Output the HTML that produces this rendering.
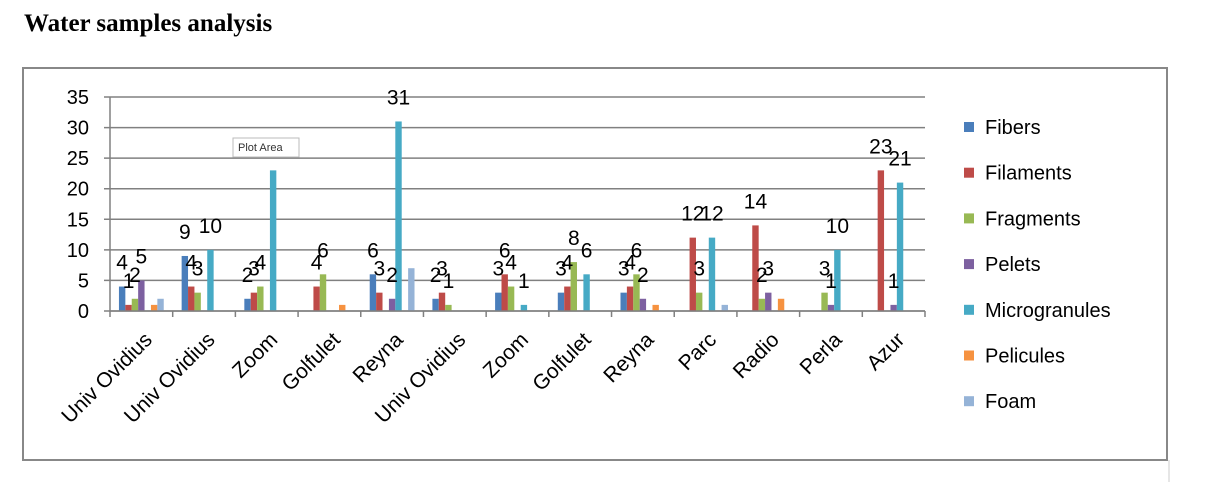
<!DOCTYPE html>
<html><head><meta charset="utf-8"><style>
body{margin:0;background:#fff;width:1205px;height:489px;overflow:hidden}
svg text{font-family:"Liberation Sans",sans-serif}
</style></head><body>
<svg width="1205" height="489">
<text x="24" y="31" font-weight="bold" font-size="25" style="font-family:'Liberation Serif',serif">Water samples analysis</text>
<rect x="23" y="68" width="1144" height="392" fill="none" stroke="#888" stroke-width="2"/>
<line x1="1169" y1="460" x2="1169" y2="482" stroke="#ccc"/>
<g id="grid"></g>
<g id="bars"></g>
<g id="labels"></g>
<g id="xaxis"></g>
<g id="legend"></g>
<g>
<rect x="233" y="138" width="66" height="19" fill="#fff" stroke="#bbb"/>
<text x="238" y="151" font-size="11" fill="#333">Plot Area</text>
</g>
</svg>
<script>
const categories=["Univ Ovidius","Univ Ovidius","Zoom","Golfulet","Reyna","Univ Ovidius","Zoom","Golfulet","Reyna","Parc","Radio","Perla","Azur"];
const seriesNames=["Fibers","Filaments","Fragments","Pelets","Microgranules","Pelicules","Foam"];
const fibers=[4,9,2,0,6,2,3,3,3,0,0,0,0];
const filaments=[1,4,3,4,3,3,6,4,4,12,14,0,23];
const fragments=[2,3,4,6,0,1,4,8,6,3,2,3,0];
const pelets=[5,0,0,0,2,0,0,0,2,0,3,1,1];
const micro=[0,10,23,0,31,0,1,6,0,12,0,10,21];
const pelicules=[1,0,0,1,0,0,0,0,1,0,2,0,0];
const foam=[2,0,0,0,7,0,0,0,0,1,0,0,0];
const yTicks=[0,5,10,15,20,25,30,35];
const series=[fibers,filaments,fragments,pelets,micro,pelicules,foam];
const labelled=[true,true,true,true,true,false,false];
const colors=["#4a7ebb","#be4b48","#98b954","#7d60a0","#46aac5","#f69240","#95b3d7"];
const NS="http://www.w3.org/2000/svg";
const x0=110,x1=925,yB=311,yT=97,yMax=35;
const cw=(x1-x0)/categories.length, bw=6.4;
const y=v=>yB-(v/yMax)*(yB-yT);
function mk(t,a,p){const e=document.createElementNS(NS,t);for(const k in a)e.setAttribute(k,a[k]);p.appendChild(e);return e;}
const G=document.getElementById('grid');
yTicks.forEach(t=>{
 const l=mk('line',{x1:x0-6,x2:x1,y1:y(t),y2:y(t),stroke:'#808080','stroke-width':1.5},G);
 
 
 const tx=mk('text',{x:89,y:y(t)+7,'text-anchor':'end','font-size':20,fill:'#000'},G);
 tx.textContent=t;
 
 
});
mk('line',{x1:x0,x2:x0,y1:yT,y2:yB,stroke:'#808080','stroke-width':1.5},G);
const B=document.getElementById('bars'),L=document.getElementById('labels'),X=document.getElementById('xaxis');
categories.forEach((c,i)=>{
 const gx=x0+i*cw+(cw-bw*7)/2;
 series.forEach((s,j)=>{
  const v=s[i]; if(!v) return;
  const r=mk('rect',{x:gx+j*bw,y:y(v),width:bw,height:yB-y(v),fill:colors[j]},B);
  
  
  if(!labelled[j]) return;
  const t=mk('text',{x:gx+j*bw+bw/2,y:y(v)-17,'text-anchor':'middle','font-size':21,fill:'#000'},L);
  t.textContent=v;
  
  
 });
 const tk=mk('line',{x1:x0+i*cw,x2:x0+i*cw,y1:yB,y2:yB+6,stroke:'#808080','stroke-width':1.5},X);
 
 
 const cx=x0+i*cw+cw/2+12;
 const cy=yB+30;
 const t=mk('text',{x:cx,y:cy,'text-anchor':'end','font-size':21,fill:'#000',transform:`rotate(-45 ${cx} ${cy})`},X);
 t.textContent=c;
 
 
});
mk('line',{x1:x1,x2:x1,y1:yB,y2:yB+6,stroke:'#808080','stroke-width':1.5},X);
mk('line',{x1:x0,x2:x1,y1:yB,y2:yB,stroke:'#808080','stroke-width':1.5},X);
const LG=document.getElementById('legend');
seriesNames.forEach((n,j)=>{
 const yy=127+j*45.7;
 const g=mk('g',{},LG);
 
 
 mk('rect',{x:964,y:yy-5,width:10,height:10,fill:colors[j]},g);
 const t=mk('text',{x:985,y:yy+7,'font-size':20,fill:'#000'},g);
 t.textContent=n;
});
</script>
</body></html>
